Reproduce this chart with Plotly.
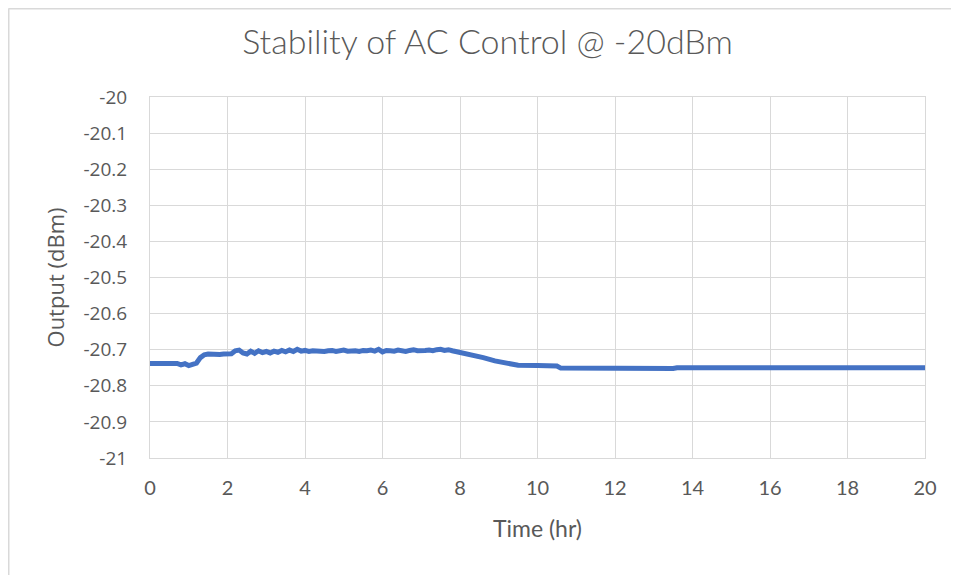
import plotly.graph_objects as go

# hours since start
time_hr = [
    0.0, 0.1, 0.2, 0.3, 0.4, 0.5, 0.6, 0.7, 0.8, 0.9,
    1.0, 1.1, 1.2, 1.3, 1.4, 1.5, 1.6, 1.7, 1.8, 1.9,
    2.0, 2.1, 2.2, 2.3, 2.4, 2.5, 2.6, 2.7, 2.8, 2.9,
    3.0, 3.1, 3.2, 3.3, 3.4, 3.5, 3.6, 3.7, 3.8, 3.9,
    4.0, 4.1, 4.2, 4.3, 4.4, 4.5, 4.6, 4.7, 4.8, 4.9,
    5.0, 5.1, 5.2, 5.3, 5.4, 5.5, 5.6, 5.7, 5.8, 5.9,
    6.0, 6.1, 6.2, 6.3, 6.4, 6.5, 6.6, 6.7, 6.8, 6.9,
    7.0, 7.1, 7.2, 7.3, 7.4, 7.5, 7.6, 7.7, 7.8,
    8.0, 8.3, 8.6, 8.9, 9.2, 9.5, 10.0, 10.5, 10.6,
    11.5, 12.0, 12.3, 12.5, 13.0, 13.5, 13.6, 14.5, 16.0, 18.0, 20.0,
]

# measured output power (dBm)
output_dbm = [
    -20.738, -20.738, -20.738, -20.738, -20.738, -20.738, -20.738, -20.738, -20.742, -20.739,
    -20.744, -20.741, -20.737, -20.722, -20.714, -20.712, -20.713, -20.712, -20.713, -20.712,
    -20.712, -20.711, -20.703, -20.701, -20.709, -20.712, -20.704, -20.710, -20.703, -20.708,
    -20.705, -20.709, -20.704, -20.707, -20.702, -20.706, -20.701, -20.705, -20.699, -20.704,
    -20.702, -20.705, -20.703, -20.704, -20.702, -20.705, -20.703, -20.702, -20.705, -20.703,
    -20.701, -20.704, -20.702, -20.703, -20.705, -20.702, -20.703, -20.701, -20.704, -20.699,
    -20.706, -20.702, -20.703, -20.704, -20.701, -20.703, -20.705, -20.702, -20.700, -20.703,
    -20.704, -20.702, -20.701, -20.703, -20.700, -20.699, -20.702, -20.700, -20.703,
    -20.707, -20.713, -20.722, -20.731, -20.737, -20.743, -20.744, -20.745, -20.751,
    -20.752, -20.753, -20.752, -20.754, -20.753, -20.752, -20.750, -20.750, -20.750, -20.750, -20.750,
]

y_ticks = [-20, -20.1, -20.2, -20.3, -20.4, -20.5, -20.6, -20.7, -20.8, -20.9, -21]
y_tick_text = ["-20", "-20.1", "-20.2", "-20.3", "-20.4", "-20.5",
               "-20.6", "-20.7", "-20.8", "-20.9", "-21"]
x_ticks = [0, 2, 4, 6, 8, 10, 12, 14, 16, 18, 20]

grey_text = "#595959"
narrow = "Lato, sans-serif"
wide = "Open Sans, sans-serif"

fig = go.Figure()
fig.add_trace(go.Scatter(x=time_hr, y=output_dbm, mode='lines',
                         line=dict(color='#4472C4', width=5), showlegend=False))

# the page body adds an 8px offset, so margins are set 8px less at top/left
fig.update_layout(
    width=959, height=575,
    paper_bgcolor='white', plot_bgcolor='white',
    margin=dict(l=142, r=42, t=89, b=125),
    title=dict(text="Stability of AC Control @ -20dBm", x=0.5, xanchor='center',
               y=1 - 34 / 575, yanchor='middle',
               font=dict(family=narrow, size=34, color=grey_text, weight=300)),
    xaxis=dict(range=[0, 20], tickvals=x_ticks, showgrid=True, gridcolor='#d9d9d9',
               gridwidth=1, zeroline=False, showline=True, linecolor='#d9d9d9',
               mirror=True, ticks='', ticklabelstandoff=12,
               tickfont=dict(family=narrow, size=20, color=grey_text),
               title=dict(text="Time (hr)", standoff=22,
                          font=dict(family=narrow, size=23, color=grey_text))),
    yaxis=dict(range=[-21, -20], tickvals=y_ticks, ticktext=y_tick_text,
               showgrid=True, gridcolor='#d9d9d9', gridwidth=1, zeroline=False,
               showline=True, linecolor='#d9d9d9', mirror=True, ticks='',
               ticklabelstandoff=18,
               tickfont=dict(family=wide, size=19, color=grey_text),
               title=dict(text="Output (dBm)", standoff=12,
                          font=dict(family=wide, size=22, color=grey_text))),
    shapes=[
        dict(type='line', xref='paper', yref='paper', x0=-0.1826, x1=-0.1826, y0=-1, y1=1.245,
             line=dict(color='#d9d9d9', width=2)),
        dict(type='line', xref='paper', yref='paper', x0=-0.1826, x1=1.2, y0=1.245, y1=1.245,
             line=dict(color='#d9d9d9', width=2)),
    ],
)

fig.write_html("out.html")
